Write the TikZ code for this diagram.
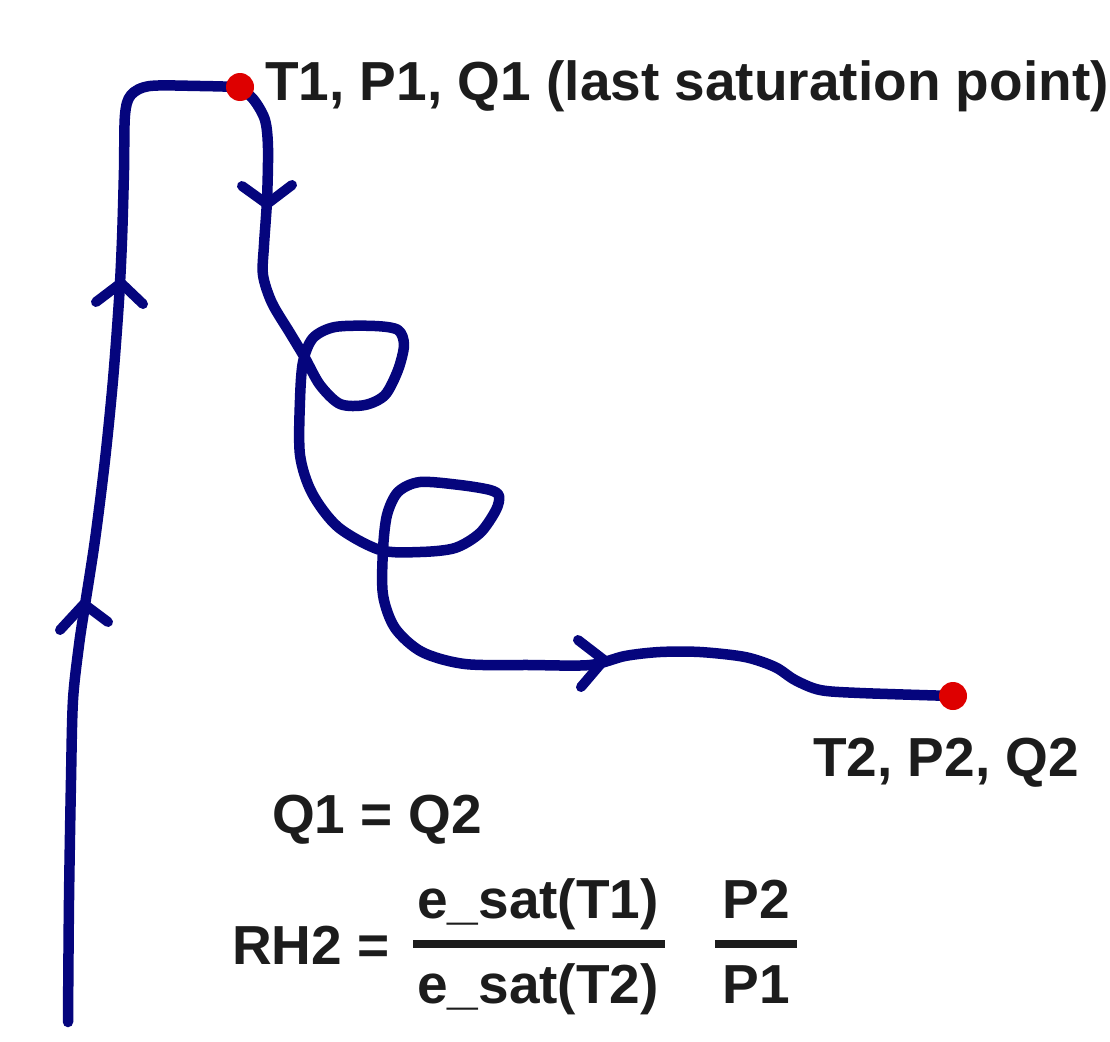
\documentclass[tikz,border=0pt]{standalone}
\usepackage{fontspec}
\setmainfont{Liberation Sans}
\begin{document}
\begin{tikzpicture}[x=1pt,y=-1pt,
  curve/.style={draw=pathblue,line width=10.5pt,line cap=round,line join=round},
  chev/.style={draw=pathblue,line width=10pt,line cap=round,line join=round},
  dotnode/.style={circle,fill=dotred,minimum size=28pt,inner sep=0pt},
  lbl/.style={anchor=base west,inner sep=0pt,text=txtgray,font=\fontsize{55}{60}\selectfont\bfseries},
  fracbar/.style={draw=txtgray,line width=7.5pt}]
\definecolor{pathblue}{RGB}{5,5,125}
\definecolor{dotred}{RGB}{222,0,0}
\definecolor{txtgray}{RGB}{28,28,28}
\useasboundingbox[fill=white] (0,0) rectangle (1110,1041);
\coordinate (start) at (68,1022);
\coordinate (p1) at (240,87);
\coordinate (p2) at (953,696);
% rising branch
\draw[curve] plot[smooth,tension=0.5] coordinates {(start) (69,900) (71,780) (73,700) (79,645) (85,605) (95,540) (105,460) (113,380) (119,300) (122,240) (124,170) (125,115) (131,95) (150,86) (200,86) (p1)};
% descending branch with loops
\draw[curve] plot[smooth,tension=0.5] coordinates {(p1) (254,100) (265,120) (268,148) (267,200) (264,245) (263,275) (272,303) (290,333) (305,358) (320,385) (340,404) (365,405) (385,395) (398,370) (404,345) (398,330) (375,326) (335,327) (313,338) (303,362) (300,400) (300,455) (312,493) (338,527) (380,550) (420,552) (455,548) (480,533) (496,510) (499,496) (490,490) (460,485) (420,482) (398,492) (387,515) (383,550) (383,595) (395,628) (422,652) (465,664) (530,665) (590,665) (625,656) (660,652) (700,652) (745,657) (775,667) (795,680) (820,690) (860,693) (p2)};
% arrow chevrons
\draw[chev] (60,630) -- (84,604) -- (108,622);
\draw[chev] (96,302) -- (121,283) -- (143,304);
\draw[chev] (242,186) -- (267,204) -- (292,185);
\draw[chev] (578,640) -- (604,660) -- (581,687);
% saturation points
\node[dotnode] (d1) at (p1) {};
\node[dotnode] (d2) at (p2) {};
% labels
\node[lbl] (t1) at (265,100) {T1, P1, Q1 (last saturation point)};
\node[lbl] (t2) at (813,776) {T2, P2, Q2};
\node[lbl] (eq) at (272,833) {Q1 = Q2};
\node[lbl] (rh) at (232,964) {RH2 =};
\node[lbl,anchor=base] (num1) at (538,918) {e\_sat(T1)};
\node[lbl,anchor=base] (den1) at (538,1003) {e\_sat(T2)};
\node[lbl,anchor=base] (num2) at (756,918) {P2};
\node[lbl,anchor=base] (den2) at (756,1003) {P1};
\draw[fracbar] (413,944) -- (665,944);
\draw[fracbar] (715,944) -- (797,944);
\end{tikzpicture}
\end{document}
